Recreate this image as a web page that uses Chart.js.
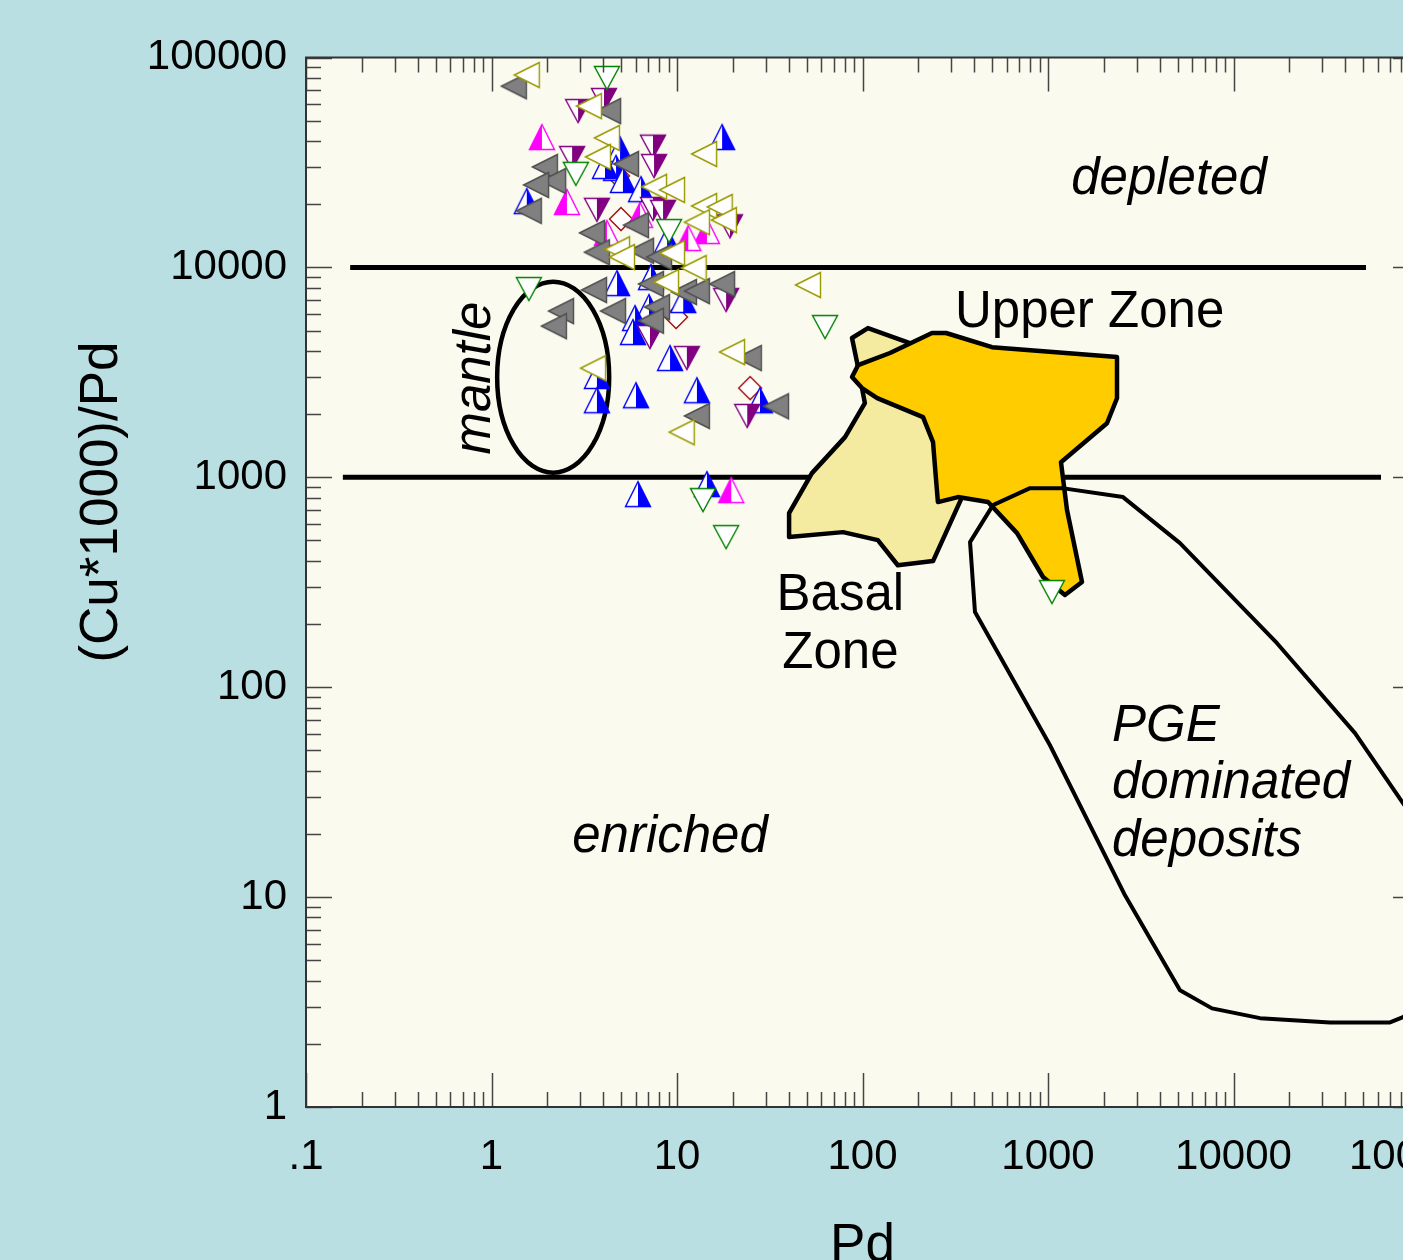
<!DOCTYPE html>
<html>
<head>
<meta charset="utf-8">
<script src="https://cdn.jsdelivr.net/npm/chart.js@4.4.1/dist/chart.umd.min.js"></script>
<style>
  html, body { margin: 0; padding: 0; overflow: hidden; background: #B9DFE2; }
  canvas { display: block; }
</style>
</head>
<body>
<canvas id="plot" width="1500" height="1260"></canvas>
<script>
// ---- axis ticks ----
const xTickValues = [0.1, 1, 10, 100, 1000, 10000, 100000];
const xTickLabels = ['.1', '1', '10', '100', '1000', '10000', '100000'];
const yTickValues = [1, 10, 100, 1000, 10000, 100000];
const yTickLabels = ['1', '10', '100', '1000', '10000', '100000'];

// ---- samples: [Pd, (Cu*1000)/Pd] ----
const grayLeftPts = [
  [1.32, 73000], [4.25, 55600], [5.31, 31100], [1.94, 30100], [2.15, 25800], [1.74, 24700],
  [1.59, 18600], [6.01, 15900], [3.48, 14600], [3.70, 11800], [6.40, 12000], [8.00, 11200],
  [3.57, 7800], [7.24, 8330], [10.9, 7630], [12.8, 7710], [17.5, 8330], [4.52, 6190],
  [7.80, 6470], [7.24, 5570], [2.37, 6190], [2.17, 5250], [12.8, 1960], [24.4, 3700], [34.2, 2180]
];
const oliveLeftPts = [
  [1.55, 82500], [3.35, 58700], [4.19, 41400], [3.75, 33600], [14.0, 34700], [7.52, 24200],
  [9.40, 23400], [14.0, 19600], [17.0, 19400], [12.8, 16400], [17.9, 16800], [4.75, 12200],
  [5.05, 11200], [9.40, 11700], [12.3, 9930], [8.73, 8520], [3.53, 3310], [19.8, 3950],
  [10.6, 1640], [50.8, 8240]
];
const greenDownPts = [
  [4.19, 79900], [2.85, 27900], [9.06, 14900], [1.59, 7890], [13.8, 779], [18.4, 519],
  [62.8, 5200], [1050, 284]
];
const purpleDownPts = [
  [4.04, 62700], [2.93, 55600], [7.42, 37600], [7.52, 30400], [2.72, 33200], [3.70, 18800],
  [7.42, 19000], [8.41, 18400], [19.3, 15700], [18.4, 6990], [7.15, 4660], [11.3, 3700], [23.9, 1960]
];
const blueUpPts = [
  [17.5, 41800], [4.93, 36600], [4.69, 29800], [4.09, 30400], [5.11, 26100], [6.40, 23600],
  [1.55, 20700], [8.84, 13500], [4.75, 8420], [7.24, 8990], [7.06, 6470], [5.94, 5740],
  [5.79, 4920], [10.8, 6990], [9.17, 3700], [3.70, 3040], [3.70, 2330], [6.01, 2460],
  [12.8, 2600], [28.0, 2330], [6.16, 832], [14.5, 928]
];
const magentaUpPts = [
  [1.87, 41800], [2.55, 20500], [6.32, 17800], [4.19, 14600], [14.5, 14900], [11.5, 13800], [19.6, 869]
];
const diamondPts = [
  [4.81, 27300], [4.99, 17000], [9.88, 5800], [24.8, 2660]
];

// ---- reference fields (Pd, Cu*1000/Pd) ----
const basalZone = [
  [87.8, 4610], [107, 5140], [180, 4360], [246, 2910], [278, 1350], [344, 805], [240, 399],
  [155, 381], [121, 502], [78.5, 548], [40.2, 519], [40.2, 675], [53.4, 1047], [80.5, 1554],
  [103, 2257], [93.4, 3539]
];
const upperZone = [
  [94.6, 3420], [140.7, 3910], [237, 4870], [282, 4870], [499, 4170], [2355, 3740], [2355, 2380],
  [2080, 1810], [1175, 1180], [1266, 698], [1525, 317], [1234, 275], [940, 335], [681, 542],
  [475, 762], [327, 805], [255, 762], [246, 1118], [240, 1471], [212, 1936], [120, 2384],
  [99.4, 2661], [87.8, 3002]
];
const pgeField = [
  [505, 737], [800, 888], [1190, 888], [2537, 805], [5147, 486], [17160, 162], [45190, 60.4],
  [81960, 28.0], [129800, 15.8], [129800, 3.6], [81960, 2.68], [69800, 2.53], [33140, 2.53],
  [13900, 2.65], [7658, 2.95], [5147, 3.6], [2601, 10.2], [1025, 52.9], [404, 228], [380, 491]
];
// horizontal class limits: [ratio, Pd from, Pd to]
const classLimits = [[10000, 0.173, 51800], [1000, 0.158, 62400]];
// mantle field: centre and half-widths in decades
const mantleCentre = [2.15, 3000];
const mantleHalfDecades = [0.302, 0.455];

const fieldLabels = [
  { text: 'depleted', x: 4490, y: 22400, italic: true, align: 'center' },
  { text: 'Upper Zone', x: 315, y: 5200, italic: false, align: 'left' },
  { text: 'Basal', x: 76, y: 233, italic: false, align: 'center' },
  { text: 'Zone', x: 76, y: 123, italic: false, align: 'center' },
  { text: 'enriched', x: 9.17, y: 16.4, italic: true, align: 'center' },
  { text: 'PGE', x: 2213, y: 55.3, italic: true, align: 'left' },
  { text: 'dominated', x: 2213, y: 29.6, italic: true, align: 'left' },
  { text: 'deposits', x: 2213, y: 15.65, italic: true, align: 'left' },
  { text: 'mantle', x: 0.98, y: 2970, italic: true, align: 'center', vertical: true }
];

const FONT = '"Liberation Sans", Arial, Helvetica, sans-serif';

// ---- marker images ----
function marker(draw) {
  const c = document.createElement('canvas');
  c.width = 30; c.height = 30;
  const g = c.getContext('2d');
  g.translate(15, 15);
  g.lineJoin = 'miter';
  draw(g);
  return c;
}
function poly(g, pts) {
  g.beginPath();
  pts.forEach(([x, y], i) => i ? g.lineTo(x, y) : g.moveTo(x, y));
  g.closePath();
}
function halfTriangle(pts, colour, side) {
  return marker(g => {
    poly(g, pts); g.fillStyle = '#FFFFFF'; g.fill();
    g.save();
    g.beginPath();
    if (side === 'right') g.rect(0, -15, 15, 30); else g.rect(-15, -15, 15, 30);
    g.clip();
    poly(g, pts); g.fillStyle = colour; g.fill();
    g.restore();
    poly(g, pts); g.strokeStyle = colour; g.lineWidth = 1.4; g.stroke();
  });
}
const UP = [[0, -12.5], [12.5, 12.5], [-12.5, 12.5]];
const DOWN = [[-12.5, -11.5], [12.5, -11.5], [0, 11.5]];
const LEFT = [[-12.5, 0], [12.5, -12.5], [12.5, 12.5]];
const DIAMOND = [[0, -11.5], [11.5, 0], [0, 11.5], [-11.5, 0]];

const imgGrayLeft = marker(g => { poly(g, LEFT); g.fillStyle = '#808080'; g.fill(); g.strokeStyle = '#505050'; g.lineWidth = 1.4; g.stroke(); });
const imgOliveLeft = marker(g => { poly(g, LEFT); g.fillStyle = '#FFFFFF'; g.fill(); g.strokeStyle = '#999900'; g.lineWidth = 1.4; g.stroke(); });
const imgGreenDown = marker(g => { poly(g, DOWN); g.fillStyle = '#FFFFFF'; g.fill(); g.strokeStyle = '#008000'; g.lineWidth = 1.4; g.stroke(); });
const imgDiamond = marker(g => { poly(g, DIAMOND); g.fillStyle = '#FFFFFF'; g.fill(); g.strokeStyle = '#990000'; g.lineWidth = 1.3; g.stroke(); });
const imgPurpleDown = halfTriangle(DOWN, '#800080', 'right');
const imgBlueUp = halfTriangle(UP, '#0000FF', 'right');
const imgMagentaUp = halfTriangle(UP, '#FF00FF', 'left');

function series(label, pts, img, order) {
  return {
    label, order,
    data: pts.map(([x, y]) => ({ x, y })),
    pointStyle: img, pointRadius: 12, pointHoverRadius: 12, showLine: false
  };
}

// ---- plugins ----
const backdrop = {
  id: 'backdrop',
  beforeDraw(chart) {
    const { ctx, chartArea: a } = chart;
    ctx.save();
    ctx.fillStyle = '#B9DFE2';
    ctx.fillRect(0, 0, chart.width, chart.height);
    ctx.fillStyle = '#FAFAEE';
    ctx.fillRect(a.left, a.top, a.right - a.left, a.bottom - a.top);
    ctx.restore();
  }
};

const fields = {
  id: 'fields',
  beforeDatasetsDraw(chart) {
    const { ctx, chartArea: a, scales: { x: xs, y: ys } } = chart;
    const px = v => xs.getPixelForValue(v);
    const py = v => ys.getPixelForValue(v);
    const trace = pts => {
      ctx.beginPath();
      pts.forEach(([vx, vy], i) => i ? ctx.lineTo(px(vx), py(vy)) : ctx.moveTo(px(vx), py(vy)));
      ctx.closePath();
    };
    ctx.save();
    ctx.beginPath();
    ctx.rect(a.left, a.top, a.right - a.left, a.bottom - a.top);
    ctx.clip();
    ctx.strokeStyle = '#000000';
    ctx.lineJoin = 'round';

    ctx.lineWidth = 5;
    classLimits.forEach(([ratio, from, to]) => {
      ctx.beginPath();
      ctx.moveTo(px(from), py(ratio));
      ctx.lineTo(px(to), py(ratio));
      ctx.stroke();
    });

    ctx.lineWidth = 4.5;
    trace(basalZone); ctx.fillStyle = '#F5EBA0'; ctx.fill(); ctx.stroke();
    trace(upperZone); ctx.fillStyle = '#FFCC00'; ctx.fill(); ctx.stroke();
    ctx.lineWidth = 4;
    trace(pgeField); ctx.stroke();

    const cx = px(mantleCentre[0]), cy = py(mantleCentre[1]);
    const rx = px(mantleCentre[0] * Math.pow(10, mantleHalfDecades[0])) - cx;
    const ry = cy - py(mantleCentre[1] * Math.pow(10, mantleHalfDecades[1]));
    ctx.lineWidth = 4.5;
    ctx.beginPath();
    ctx.ellipse(cx, cy, rx, ry, 0, 0, Math.PI * 2);
    ctx.stroke();

    ctx.fillStyle = '#000000';
    ctx.textBaseline = 'alphabetic';
    fieldLabels.forEach(l => {
      ctx.font = (l.italic ? 'italic ' : '') + '51px ' + FONT;
      ctx.textAlign = l.align;
      if (l.vertical) {
        ctx.save();
        ctx.translate(px(l.x), py(l.y));
        ctx.rotate(-Math.PI / 2);
        ctx.fillText(l.text, 0, 0);
        ctx.restore();
      } else {
        ctx.fillText(l.text, px(l.x), py(l.y));
      }
    });
    ctx.restore();
  }
};

const frame = {
  id: 'frame',
  afterDatasetsDraw(chart) {
    const { ctx, chartArea: a, scales: { x: xs, y: ys } } = chart;
    ctx.save();
    ctx.strokeStyle = '#454545';
    ctx.lineWidth = 1.5;
    ctx.beginPath();
    for (let e = -1; e <= 5; e++) {
      for (let k = 1; k <= 9; k++) {
        const v = k * Math.pow(10, e);
        if (v > 100000 * 1.0001) break;
        const p = Math.round(xs.getPixelForValue(v)) + 0.5;
        const len = k === 1 ? 34 : 15;
        ctx.moveTo(p, a.bottom); ctx.lineTo(p, a.bottom - len);
        ctx.moveTo(p, a.top); ctx.lineTo(p, a.top + len);
      }
    }
    for (let e = 0; e <= 5; e++) {
      for (let k = 1; k <= 9; k++) {
        const v = k * Math.pow(10, e);
        if (v > 100000 * 1.0001) break;
        const p = Math.round(ys.getPixelForValue(v)) + 0.5;
        const len = k === 1 ? 26 : 15;
        ctx.moveTo(a.left, p); ctx.lineTo(a.left + len, p);
        ctx.moveTo(a.right, p); ctx.lineTo(a.right - len, p);
      }
    }
    ctx.stroke();
    ctx.strokeStyle = '#333333';
    ctx.lineWidth = 2;
    ctx.strokeRect(a.left, a.top, a.right - a.left, a.bottom - a.top);
    ctx.restore();
  },
  afterDraw(chart) {
    const { ctx, chartArea: a } = chart;
    ctx.save();
    ctx.fillStyle = '#000000';
    ctx.font = '53px ' + FONT;
    ctx.textAlign = 'center';
    ctx.textBaseline = 'alphabetic';
    ctx.fillText('Pd', (a.left + a.right) / 2, 1261);
    ctx.translate(117, 502);
    ctx.rotate(-Math.PI / 2);
    ctx.fillText('(Cu*1000)/Pd', 0, 0);
    ctx.restore();
  }
};

new Chart(document.getElementById('plot'), {
  type: 'scatter',
  data: {
    datasets: [
      series('Olive', oliveLeftPts, imgOliveLeft, 0),
      series('Gray', grayLeftPts, imgGrayLeft, 1),
      series('Green', greenDownPts, imgGreenDown, 2),
      series('Purple', purpleDownPts, imgPurpleDown, 3),
      series('Blue', blueUpPts, imgBlueUp, 4),
      series('Magenta', magentaUpPts, imgMagentaUp, 5),
      series('Red', diamondPts, imgDiamond, 6)
    ]
  },
  options: {
    responsive: false,
    animation: false,
    events: [],
    layout: { padding: { top: 57.5, right: 81, left: 0, bottom: 0 } },
    plugins: { legend: { display: false }, tooltip: { enabled: false } },
    scales: {
      x: {
        type: 'logarithmic', min: 0.1, max: 100000,
        grid: { display: false, drawTicks: false },
        border: { display: false },
        afterBuildTicks: s => { s.ticks = xTickValues.map(v => ({ value: v })); },
        afterFit: s => { s.height = 153; s.paddingLeft = 0; s.paddingRight = 0; },
        ticks: {
          autoSkip: false, maxRotation: 0, minRotation: 0, padding: 25, color: '#000000',
          font: { family: FONT, size: 42 },
          callback: (v, i) => xTickLabels[i]
        }
      },
      y: {
        type: 'logarithmic', min: 1, max: 100000,
        grid: { display: false, drawTicks: false },
        border: { display: false },
        afterBuildTicks: s => { s.ticks = yTickValues.map(v => ({ value: v })); },
        afterFit: s => { s.width = 306; s.paddingTop = 0; s.paddingBottom = 0; },
        ticks: {
          autoSkip: false, padding: 19, color: '#000000',
          font: { family: FONT, size: 42 },
          callback: (v, i) => yTickLabels[i]
        }
      }
    }
  },
  plugins: [backdrop, fields, frame]
});
</script>
</body>
</html>
